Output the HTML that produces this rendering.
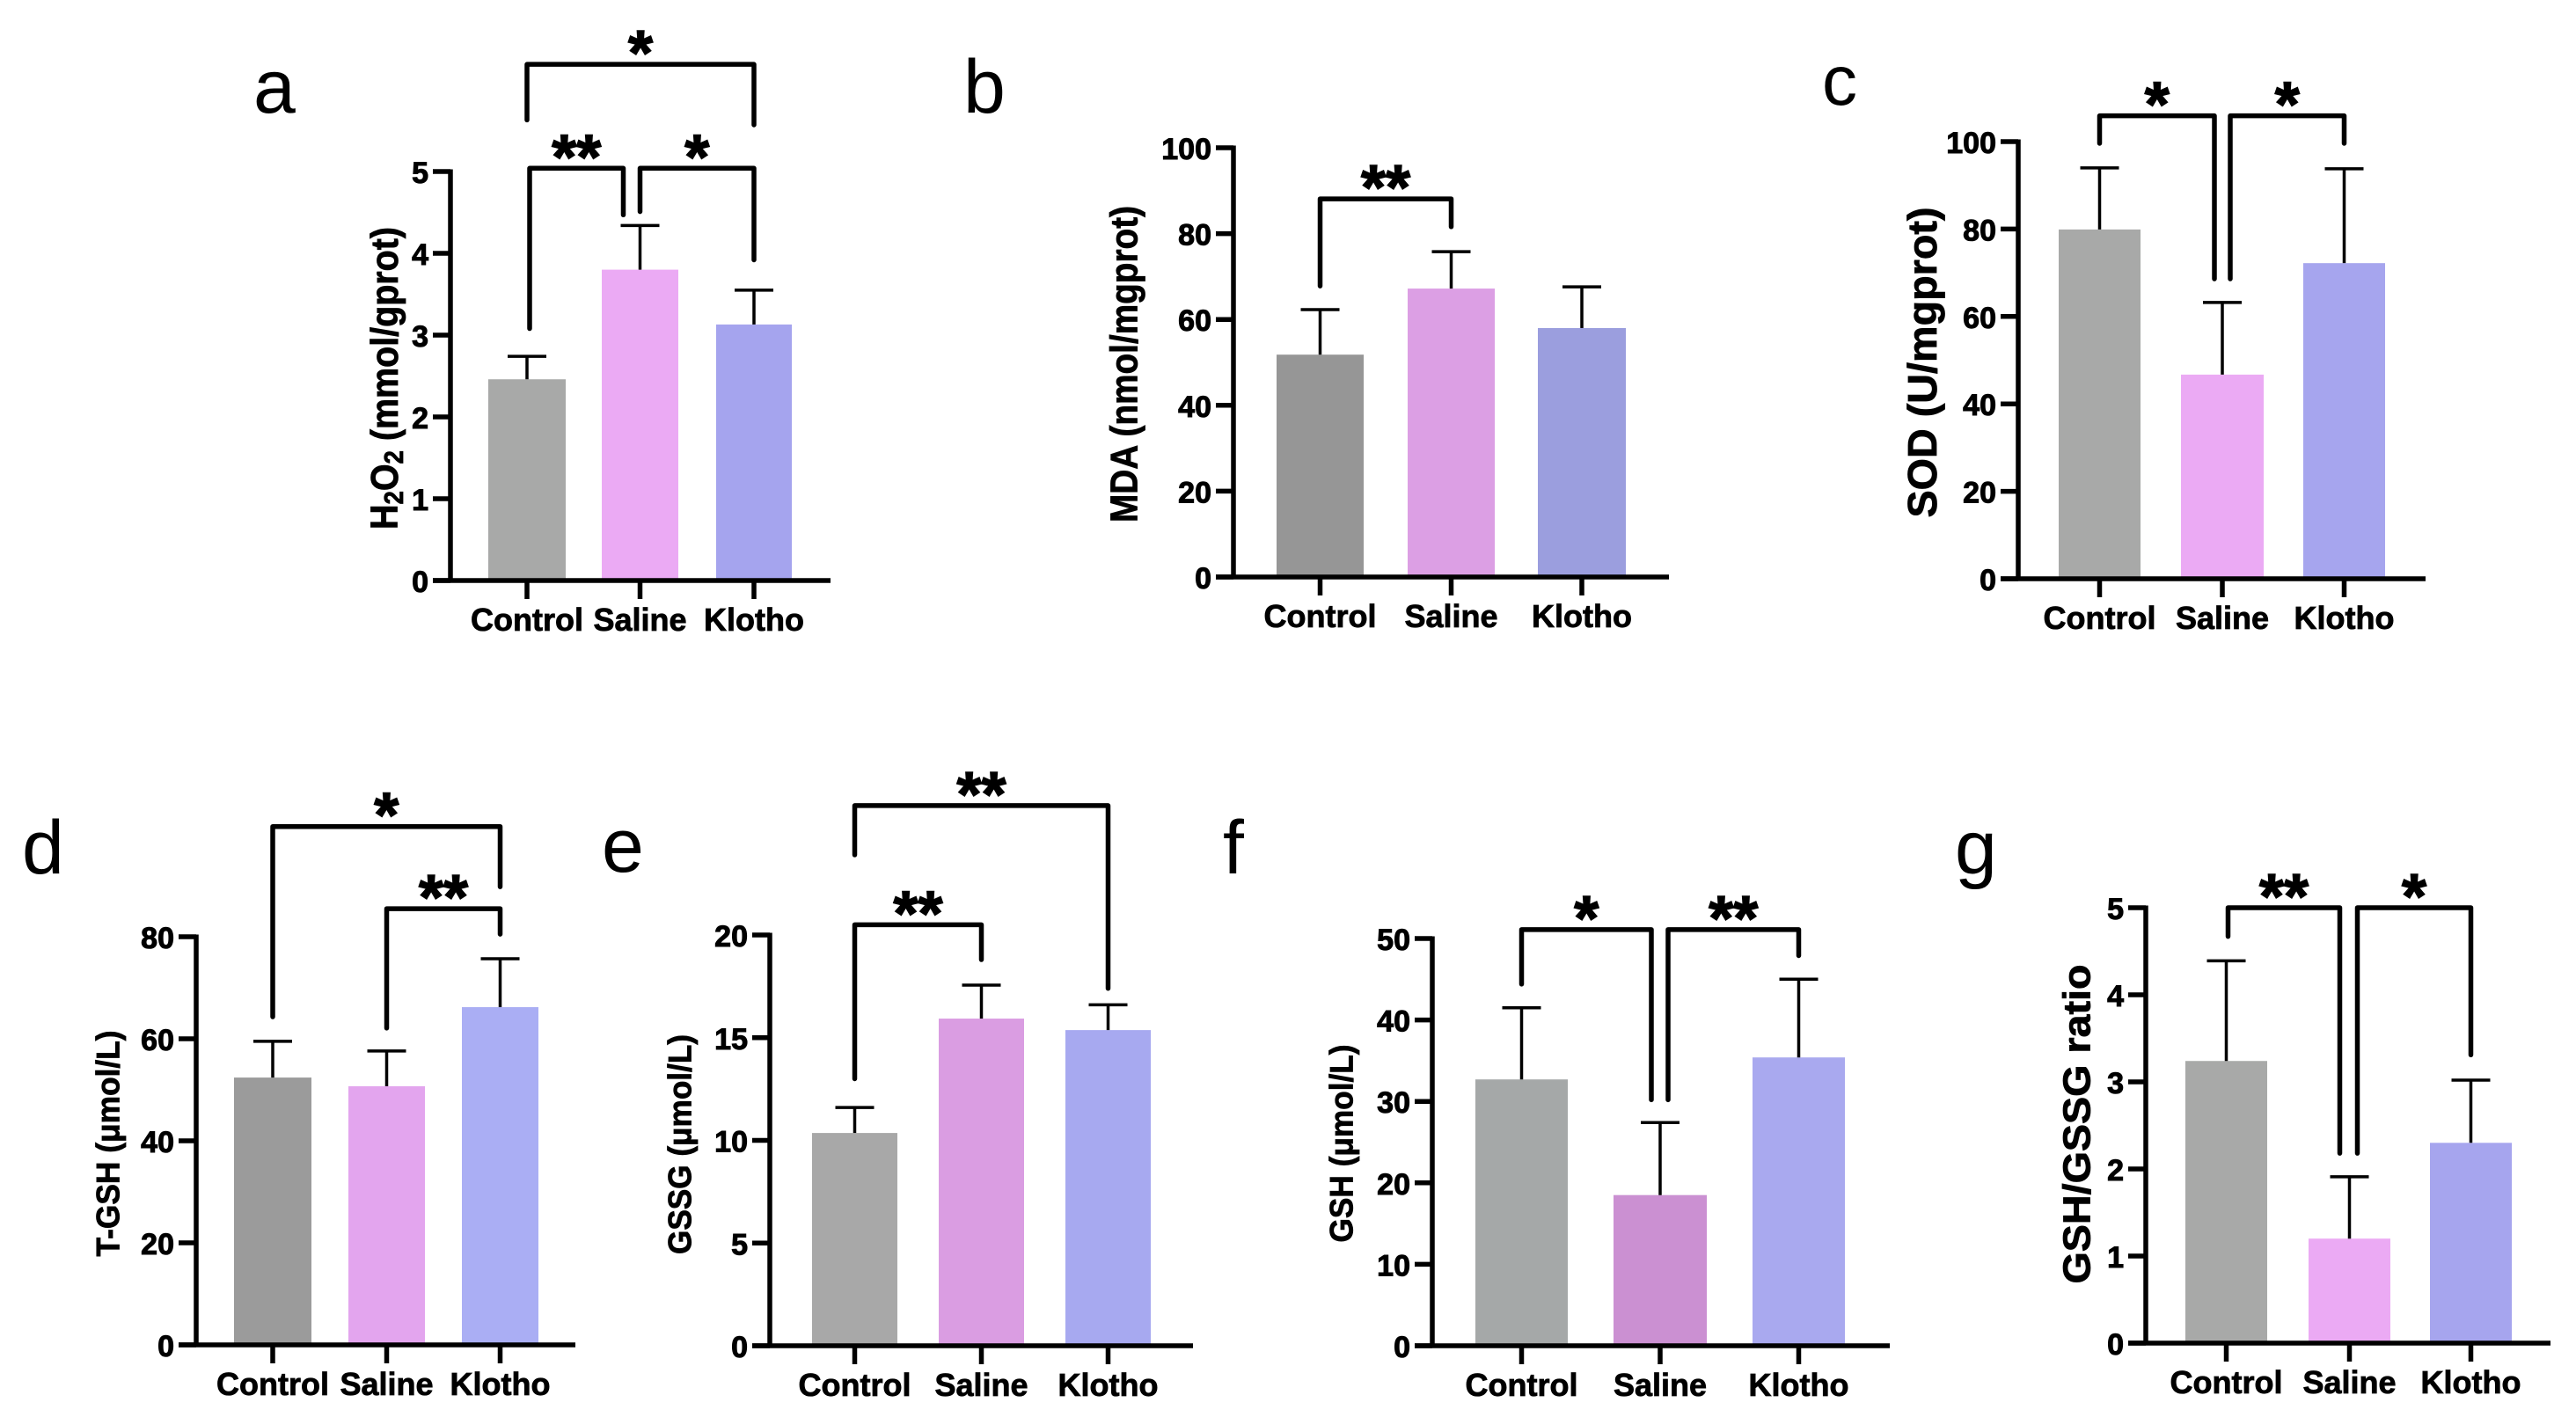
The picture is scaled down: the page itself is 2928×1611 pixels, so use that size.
<!DOCTYPE html>
<html><head><meta charset="utf-8"><style>
html,body{margin:0;padding:0;background:#fff}
svg{display:block}
text{font-family:"Liberation Sans",Arial,sans-serif}
</style></head><body>
<svg id="fig" width="2928" height="1611" viewBox="0 0 2928 1611" xmlns="http://www.w3.org/2000/svg"></svg>
<script>
const categories = ['Control', 'Saline', 'Klotho'];
const h2o2Mean = [2.46, 3.80, 3.13];
const h2o2Err = [0.28, 0.54, 0.42];
const mdaMean = [51.8, 67.2, 58.0];
const mdaErr = [10.5, 8.6, 9.6];
const sodMean = [79.9, 46.7, 72.2];
const sodErr = [14.1, 16.5, 21.6];
const tgshMean = [52.4, 50.7, 66.2];
const tgshErr = [7.1, 6.9, 9.5];
const gssgMean = [10.36, 15.93, 15.37];
const gssgErr = [1.24, 1.63, 1.23];
const gshMean = [32.7, 18.5, 35.4];
const gshErr = [8.8, 8.9, 9.6];
const ratioMean = [3.24, 1.20, 2.30];
const ratioErr = [1.15, 0.71, 0.72];
const ticks5 = [0, 1, 2, 3, 4, 5];
const ticks100 = [0, 20, 40, 60, 80, 100];
const ticks80 = [0, 20, 40, 60, 80];
const ticks20 = [0, 5, 10, 15, 20];
const ticks50 = [0, 10, 20, 30, 40, 50];
// brackets: [fromIdx, toIdx, barY, leftLegEnd, rightLegEnd, label] in data units
const h2o2Sig = [[0, 2, 6.31, 5.63, 5.57, '*'], [0, 1, 5.04, 3.08, 4.47, '**'], [1, 2, 5.04, 4.51, 3.92, '*']];
const mdaSig = [[0, 1, 88.1, 67.8, 81.6, '**']];
const sodSig = [[0, 1, 105.9, 99.6, 68.6, '*'], [1, 2, 105.9, 68.6, 99.6, '*']];
const tgshSig = [[0, 2, 101.6, 64.3, 89.8, '*'], [1, 2, 85.5, 62.1, 80.5, '**']];
const gssgSig = [[0, 2, 26.3, 23.9, 17.4, '**'], [0, 1, 20.5, 13.0, 18.8, '**']];
const gshSig = [[0, 1, 51.1, 44.4, 30.2, '*'], [1, 2, 51.1, 30.2, 47.9, '**']];
const ratioSig = [[0, 1, 5.0, 4.67, 2.18, '**'], [1, 2, 5.0, 2.18, 3.31, '*']];

const NS = 'http://www.w3.org/2000/svg';
const svg = document.getElementById('fig');
function mk(tag, attrs, parent) {
  const e = document.createElementNS(NS, tag);
  for (const k in attrs) e.setAttribute(k, attrs[k]);
  (parent || svg).appendChild(e);
  return e;
}

const panels = [
  {id:'a', mean:h2o2Mean, err:h2o2Err, ticks:ticks5, sig:h2o2Sig, max:5, ax:512, y0:660, yTop:195, xEnd:944,
   bars:[[555,643],[684,771],[814,900]], colors:['#a8a9a8','#ebaaf4','#a5a4ee'],
   title:'H2O2', tx:437, ty:430, tlen:344, tfs:44, lx:288, ly:128, lfs:86, gaps:[[0,0],[3,-19],[0,0]]},
  {id:'b', mean:mdaMean, err:mdaErr, ticks:ticks100, sig:mdaSig, max:100, ax:1402, y0:656, yTop:168, xEnd:1897,
   bars:[[1451,1550],[1600,1699],[1748,1848]], colors:['#969696','#dc9fe4','#9b9ede'],
   title:'MDA (nmol/mgprot)', tx:1278, ty:414, tlen:360, tfs:44, lx:1095, ly:128, lfs:86, gaps:[[0,0]]},
  {id:'c', mean:sodMean, err:sodErr, ticks:ticks100, sig:sodSig, max:100, ax:2294, y0:658, yTop:161, xEnd:2757,
   bars:[[2340,2433],[2479,2573],[2618,2711]], colors:['#a8a9a8','#ebaaf4','#a6a5ee'],
   title:'SOD (U/mgprot)', tx:2185, ty:412, tlen:353, tfs:46, lx:2071, ly:119, lfs:80, gaps:[[0,-9],[9,0]]},
  {id:'d', mean:tgshMean, err:tgshErr, ticks:ticks80, sig:tgshSig, max:80, ax:223, y0:1529, yTop:1065, xEnd:654,
   bars:[[266,354],[396,483],[525,612]], colors:['#9b9b9b','#e3a5ee','#aaaef4'],
   title:'T-GSH (μmol/L)', tx:123, ty:1300, tlen:257, tfs:37, lx:25, ly:993, lfs:86, gaps:[[0,0],[0,0]]},
  {id:'e', mean:gssgMean, err:gssgErr, ticks:ticks20, sig:gssgSig, max:20, ax:875, y0:1530, yTop:1063, xEnd:1356,
   bars:[[923,1020],[1067,1164],[1211,1308]], colors:['#a8a8a8','#da9de2','#a7a9f0'],
   title:'GSSG (μmol/L)', tx:773, ty:1301, tlen:250, tfs:37, lx:684, ly:991, lfs:86, gaps:[[0,0],[0,0]]},
  {id:'f', mean:gshMean, err:gshErr, ticks:ticks50, sig:gshSig, max:50, ax:1628, y0:1530, yTop:1067, xEnd:2148,
   bars:[[1677,1782],[1834,1940],[1992,2097]], colors:['#a5a8a8','#cb90d2','#a9a9ef'],
   title:'GSH (μmol/L)', tx:1525, ty:1300, tlen:225, tfs:37, lx:1390, ly:993, lfs:86, gaps:[[0,-10],[9,0]]},
  {id:'g', mean:ratioMean, err:ratioErr, ticks:ticks5, sig:ratioSig, max:5, ax:2439, y0:1527, yTop:1032, xEnd:2899,
   bars:[[2484,2577],[2624,2717],[2762,2855]], colors:['#a8a9a8','#ebaaf4','#a6a5ee'],
   title:'GSH/GSSG ratio', tx:2361, ty:1278, tlen:363, tfs:44, lx:2222, ly:993, lfs:86, gaps:[[2,-11],[9,0]]}
];

panels.forEach(p => {
  const g = mk('g', {});
  
  
  const yScale = v => p.y0 - (v / p.max) * (p.y0 - p.yTop);
  const cx = i => (p.bars[i][0] + p.bars[i][1]) / 2;

  const lt = mk('text', {x:p.lx, y:p.ly, 'font-size':p.lfs, fill:'#000'}, g);
  lt.textContent = p.id;
  
  

  p.mean.forEach((m, i) => {
    const top = yScale(m);
    const r = mk('rect', {x:p.bars[i][0], y:top, width:p.bars[i][1]-p.bars[i][0], height:p.y0-top, fill:p.colors[i]}, g);
    
    
    const et = yScale(m + p.err[i]);
    const eg = mk('g', {stroke:'#000', 'stroke-width':3.5}, g);
    
    
    mk('line', {x1:cx(i), y1:top, x2:cx(i), y2:et}, eg);
    mk('line', {x1:cx(i)-22, y1:et, x2:cx(i)+22, y2:et}, eg);
  });

  const axes = mk('g', {stroke:'#000', 'stroke-width':5.5, fill:'none'}, g);
  
  
  mk('line', {x1:p.ax, y1:p.yTop-2.5, x2:p.ax, y2:p.y0}, axes);
  mk('line', {x1:p.ax-20, y1:p.y0, x2:p.xEnd, y2:p.y0}, axes);
  p.ticks.forEach(t => {
    const y = yScale(t);
    mk('line', {x1:p.ax-20, y1:y, x2:p.ax, y2:y}, axes);
    const tl = mk('text', {x:p.ax-25, y:y+2, 'font-size':34, 'font-weight':'bold', 'text-anchor':'end', 'dominant-baseline':'central', fill:'#000', stroke:'#000', 'stroke-width':1}, g);
    tl.textContent = t;
    
    
  });
  categories.forEach((c, i) => {
    mk('line', {x1:cx(i), y1:p.y0, x2:cx(i), y2:p.y0+21}, axes);
    const xl = mk('text', {x:cx(i), y:p.y0+57, 'font-size':36, 'font-weight':'bold', 'text-anchor':'middle', fill:'#000', stroke:'#000', 'stroke-width':0.8}, g);
    xl.textContent = c;
    
    
  });

  const tt = mk('text', {x:0, y:0, 'font-size':p.tfs, 'font-weight':'bold', 'text-anchor':'middle', 'dominant-baseline':'central',
    transform:'translate(' + p.tx + ',' + p.ty + ') rotate(-90)', textLength:p.tlen, lengthAdjust:'spacingAndGlyphs', fill:'#000', stroke:'#000', 'stroke-width':0.8}, g);
  
  
  if (p.title === 'H2O2') {
    tt.appendChild(document.createTextNode('H'));
    const s1 = mk('tspan', {'font-size':p.tfs*0.7, dy:10}, tt); s1.textContent = '2';
    const s2 = mk('tspan', {dy:-10}, tt); s2.textContent = 'O';
    const s3 = mk('tspan', {'font-size':p.tfs*0.7, dy:10}, tt); s3.textContent = '2';
    const s4 = mk('tspan', {dy:-10}, tt); s4.textContent = ' (mmol/gprot)';
  } else {
    tt.textContent = p.title;
  }

  p.sig.forEach((s, k) => {
    const gap = p.gaps[k] || [0, 0];
    const x1 = cx(s[0]) + gap[0], x2 = cx(s[1]) + gap[1];
    const yb = yScale(s[2]);
    const bg = mk('g', {}, g);
    
    
    mk('path', {d:'M' + x1 + ',' + yScale(s[3]) + ' L' + x1 + ',' + yb + ' L' + x2 + ',' + yb + ' L' + x2 + ',' + yScale(s[4]),
      stroke:'#000', 'stroke-width':5.5, fill:'none', 'stroke-linejoin':'round', 'stroke-linecap':'round'}, bg);
    const st = mk('text', {x:(x1+x2)/2, y:yb+12, 'font-size':72, 'font-weight':'bold', 'text-anchor':'middle', fill:'#000', stroke:'#000', 'stroke-width':1.5}, bg);
    st.textContent = s[5];
    
    
  });
});
</script>
</body></html>
